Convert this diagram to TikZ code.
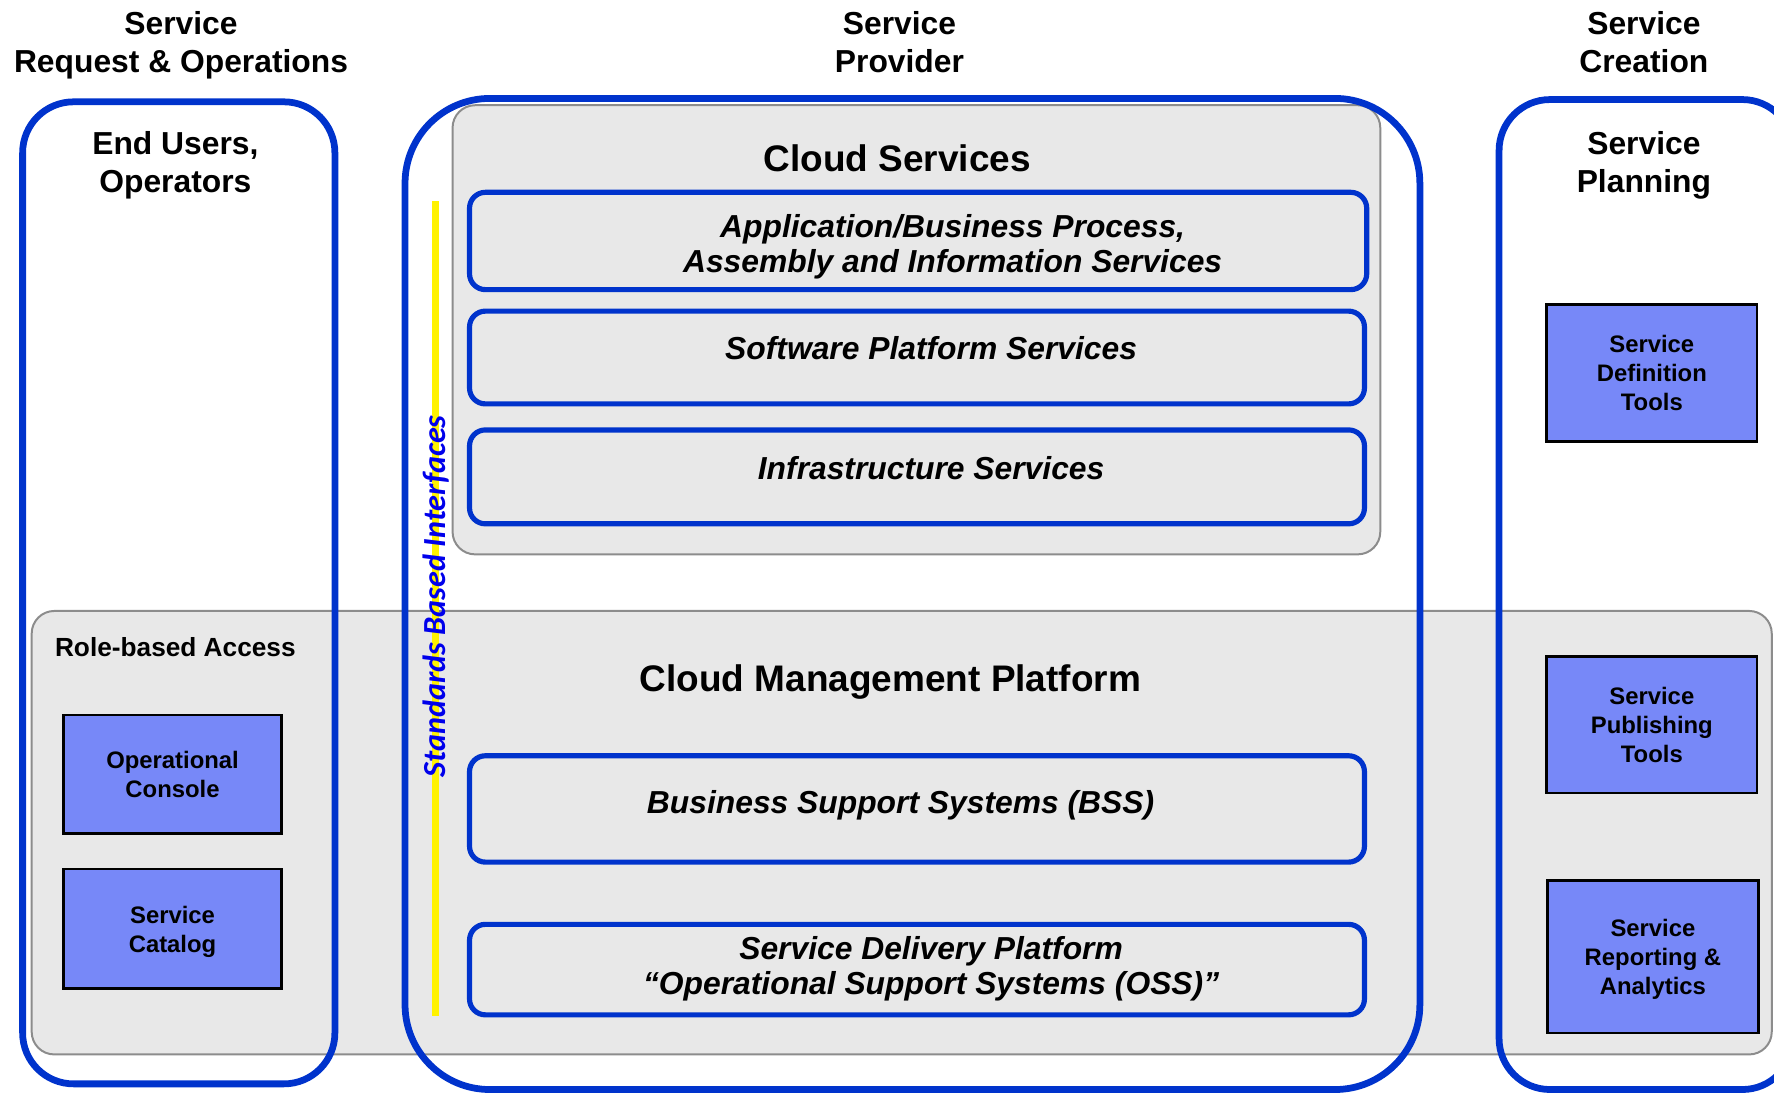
\documentclass[tikz,border=0pt]{standalone}
\usepackage{fontspec}
\setmainfont{Liberation Sans}
\newfontfamily\carlito{Carlito}
\usepackage{tikz}

\definecolor{frameblue}{RGB}{0,51,204}
\definecolor{panelgray}{RGB}{232,232,232}
\definecolor{edgegray}{RGB}{140,140,140}
\definecolor{toolblue}{RGB}{119,136,248}
\definecolor{ifaceblue}{RGB}{0,0,235}

\tikzset{
  column/.style={draw=frameblue, line width=3.4pt},
  panel/.style={draw=edgegray, fill=panelgray, line width=1pt, rounded corners=0.4cm},
  svcbox/.style={draw=frameblue, line width=2.6pt, rounded corners=0.28cm},
  heading/.style={font=\bfseries\fontsize{16}{19}\selectfont, align=center},
  bigtitle/.style={font=\bfseries\fontsize{18.6}{22}\selectfont},
  svctext/.style={font=\bfseries\itshape\fontsize{16}{17.6}\selectfont, align=center},
  tool/.style={draw=black, line width=1.4pt, fill=toolblue, align=center,
    font=\bfseries\fontsize{12}{14.6}\selectfont, text depth=0pt},
}

\begin{document}
\begin{tikzpicture}[x=0.02cm, y=-0.02cm]
             \useasboundingbox (0,0) rectangle (1568,966);

             % grey panels
             \draw[panel] (28,540) rectangle (1566,932);
             \draw[panel] (400,93) rectangle (1220,490);

             % the three columns
             \draw[column, rounded corners=0.9cm] (20,90) rectangle (296,958);
             \draw[column, rounded corners=1.5cm] (358,87) rectangle (1255,963);
             \draw[column, rounded corners=0.9cm] (1325,88) rectangle (1585,963);

             \node[heading] (hdrreq) at (160,40) {Service\\Request \& Operations};
             \node[heading] (hdrprov) at (795,37) {Service\\Provider};
             \node[heading] (hdrcreate) at (1453,37) {Service\\Creation};

             \node[heading] (endusers) at (155,146) {End Users,\\Operators};
             \node[heading] (planning) at (1453,146) {Service\\Planning};

             % interfaces
             \draw[yellow, line width=3.2pt] (385,178) -- (385,898);
             \node[text=ifaceblue, rotate=90, font=\carlito\bfseries\itshape\fontsize{16.2}{18}\selectfont]
               (iface) at (385,527) {Standards Based Interfaces};

             % cloud services
             \node[bigtitle] (cloudsvc) at (793,140) {Cloud Services};
             \draw[svcbox] (415,170) rectangle (1208,256);
             \draw[svcbox] (415,275) rectangle (1206,357);
             \draw[svcbox] (415,380) rectangle (1206,463);
             \node[svctext] (appsvc) at (842,218) {Application/Business Process,\\Assembly and Information Services};
             \node[svctext] (swsvc) at (823,308) {Software Platform Services};
             \node[svctext] (infrasvc) at (823,414) {Infrastructure Services};

             % management platform
             \node[bigtitle] (cmp) at (787,603) {Cloud Management Platform};
             \node[font=\bfseries\fontsize{13.2}{15}\selectfont] (rolebased) at (155,572) {Role-based Access};
             \draw[svcbox] (415,668) rectangle (1206,762);
             \draw[svcbox] (415,817) rectangle (1206,897);
             \node[svctext] (bss) at (796,712) {Business Support Systems (BSS)};
             \node[svctext] (oss) at (823,856) {Service Delivery Platform\\“Operational Support Systems (OSS)”};

             % tools
             \node[tool, minimum width=3.86cm, minimum height=2.1cm] (opconsole) at (152.5,684.5) {Operational\\Console};
             \node[tool, minimum width=3.86cm, minimum height=2.12cm] (catalog) at (152.5,821) {Service\\Catalog};
             \node[tool, minimum width=3.72cm, minimum height=2.42cm] (deftools) at (1460,329.5) {Service\\Definition\\Tools};
             \node[tool, minimum width=3.72cm, minimum height=2.42cm] (pubtools) at (1460,640.5) {Service\\Publishing\\Tools};
             \node[tool, minimum width=3.72cm, minimum height=2.7cm] (reptools) at (1461,845.5) {Service\\Reporting \&\\Analytics};
\end{tikzpicture}
\end{document}
